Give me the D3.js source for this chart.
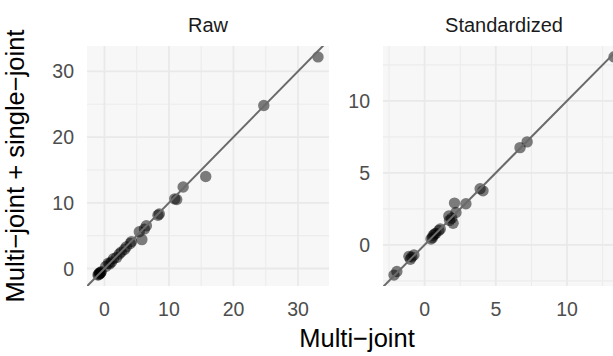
<!DOCTYPE html>
<html>
<head>
<meta charset="utf-8">
<script src="https://cdnjs.cloudflare.com/ajax/libs/d3/7.8.5/d3.min.js"></script>
<style>
  body { margin: 0; background: #fff; }
  text { font-family: "Liberation Sans", Arial, Helvetica, sans-serif; }
</style>
</head>
<body>
<script>
// values
var panelNames = ["Raw", "Standardized"];
var rawX = [33.1, 24.7, 15.7, 12.2, 11.2, 10.9, 8.3, 8.5, 6.5, 6.2, 5.8, 5.4, 4.2, 4.0, 3.4, 3.1, 2.6, 2.3, 1.9, 1.4, 1.1, 0.8, 0.6, 0.2, -0.5, -0.6, -0.7, -0.7, -0.8, -0.9, -1.0];
var rawY = [32.2, 24.8, 14.0, 12.4, 10.5, 10.6, 8.1, 8.3, 6.5, 6.0, 4.4, 5.6, 4.1, 3.8, 3.3, 2.9, 2.5, 2.2, 1.7, 1.5, 1.0, 0.7, 0.8, 0.3, -0.5, -0.6, -0.7, -0.8, -0.7, -0.9, -1.0];
var stdX = [13.3, 7.2, 6.7, 4.1, 3.9, 2.9, 2.1, 2.2, 1.9, 2.0, 1.7, 1.75, 1.1, 1.0, 0.8, 0.7, 0.55, 0.45, 0.6, -0.75, -0.9, -1.0, -1.1, -1.95, -2.15];
var stdY = [13.05, 7.15, 6.75, 3.75, 3.9, 2.85, 2.9, 2.25, 1.85, 1.5, 2.0, 1.7, 1.1, 1.0, 0.8, 0.75, 0.5, 0.4, 0.65, -0.7, -0.85, -1.0, -0.8, -1.85, -2.1];
var rawTicks = [0, 10, 20, 30];
var rawMinor = [5, 15, 25];
var stdTicks = [0, 5, 10];
var stdMinor = [-2.5, 2.5, 7.5, 12.5];

var width = 613, height = 356;
var panelW = 242, panelH = 240, panelTop = 46;
var panelLefts = [87, 383];

var svg = d3.select("body").append("svg")
  .attr("width", width)
  .attr("height", height);

// ggplot style 5% expansion
function expand(vals) {
  var ext = d3.extent(vals), pad = (ext[1] - ext[0]) * 0.05;
  return [ext[0] - pad, ext[1] + pad];
}

var panels = [
  { name: panelNames[0], xs: rawX, ys: rawY, ticks: rawTicks, minor: rawMinor },
  { name: panelNames[1], xs: stdX, ys: stdY, ticks: stdTicks, minor: stdMinor }
];

panels.forEach(function (p, i) {
  var left = panelLefts[i];
  var x = d3.scaleLinear().domain(expand(p.xs)).range([left, left + panelW]);
  var y = d3.scaleLinear().domain(expand(p.ys)).range([panelTop + panelH, panelTop]);
  var clipId = "clip" + i;

  svg.append("clipPath").attr("id", clipId)
    .append("rect")
    .attr("x", left).attr("y", panelTop)
    .attr("width", panelW).attr("height", panelH);

  var g = svg.append("g").attr("clip-path", "url(#" + clipId + ")");
  g.append("rect")
    .attr("x", left).attr("y", panelTop)
    .attr("width", panelW).attr("height", panelH)
    .attr("fill", "#f7f7f7");

  var xd = x.domain(), yd = y.domain();
  var inX = function (v) { return v >= xd[0] && v <= xd[1]; };
  var inY = function (v) { return v >= yd[0] && v <= yd[1]; };

  // minor grid
  g.selectAll(".vminor").data(p.minor.filter(inX)).enter().append("line")
    .attr("x1", function (d) { return x(d); }).attr("x2", function (d) { return x(d); })
    .attr("y1", panelTop).attr("y2", panelTop + panelH)
    .attr("stroke", "#ececec").attr("stroke-width", 1.1);
  g.selectAll(".hminor").data(p.minor.filter(inY)).enter().append("line")
    .attr("y1", function (d) { return y(d); }).attr("y2", function (d) { return y(d); })
    .attr("x1", left).attr("x2", left + panelW)
    .attr("stroke", "#ececec").attr("stroke-width", 1.1);
  // major grid
  g.selectAll(".vmajor").data(p.ticks).enter().append("line")
    .attr("x1", function (d) { return x(d); }).attr("x2", function (d) { return x(d); })
    .attr("y1", panelTop).attr("y2", panelTop + panelH)
    .attr("stroke", "#e9e9e9").attr("stroke-width", 1.8);
  g.selectAll(".hmajor").data(p.ticks).enter().append("line")
    .attr("y1", function (d) { return y(d); }).attr("y2", function (d) { return y(d); })
    .attr("x1", left).attr("x2", left + panelW)
    .attr("stroke", "#e9e9e9").attr("stroke-width", 1.8);

  // points
  g.selectAll("circle").data(d3.range(p.xs.length)).enter().append("circle")
    .attr("cx", function (k) { return x(p.xs[k]); })
    .attr("cy", function (k) { return y(p.ys[k]); })
    .attr("r", 5.7)
    .attr("fill", "#000")
    .attr("fill-opacity", 0.5);

  // y = x reference line
  var lo = Math.min(xd[0], yd[0]) - 1, hi = Math.max(xd[1], yd[1]) + 1;
  g.append("line")
    .attr("x1", x(lo)).attr("y1", y(lo))
    .attr("x2", x(hi)).attr("y2", y(hi))
    .attr("stroke", "#6a6a6a").attr("stroke-width", 2);

  // tick labels
  svg.selectAll(".xt" + i).data(p.ticks).enter().append("text")
    .attr("x", function (d) { return x(d); })
    .attr("y", 316)
    .attr("text-anchor", "middle")
    .attr("font-size", "19.5px")
    .attr("fill", "#4d4d4d")
    .text(function (d) { return d; });
  svg.selectAll(".yt" + i).data(p.ticks).enter().append("text")
    .attr("x", left - 13)
    .attr("y", function (d) { return y(d); })
    .attr("dy", "0.36em")
    .attr("text-anchor", "end")
    .attr("font-size", "19.5px")
    .attr("fill", "#4d4d4d")
    .text(function (d) { return d; });

  // strip label
  svg.append("text")
    .attr("x", left + panelW / 2)
    .attr("y", 31.5)
    .attr("text-anchor", "middle")
    .attr("font-size", "20px")
    .attr("fill", "#1a1a1a")
    .text(p.name);
});

// axis titles
svg.append("text")
  .attr("x", 357)
  .attr("y", 347)
  .attr("text-anchor", "middle")
  .attr("font-size", "25.5px")
  .attr("fill", "#000")
  .text("Multi\u2212joint");
svg.append("text")
  .attr("transform", "translate(24," + (panelTop + panelH / 2) + ")rotate(-90)")
  .attr("text-anchor", "middle")
  .attr("font-size", "25.5px")
  .attr("fill", "#000")
  .text("Multi\u2212joint + single\u2212joint");
</script>
</body>
</html>
